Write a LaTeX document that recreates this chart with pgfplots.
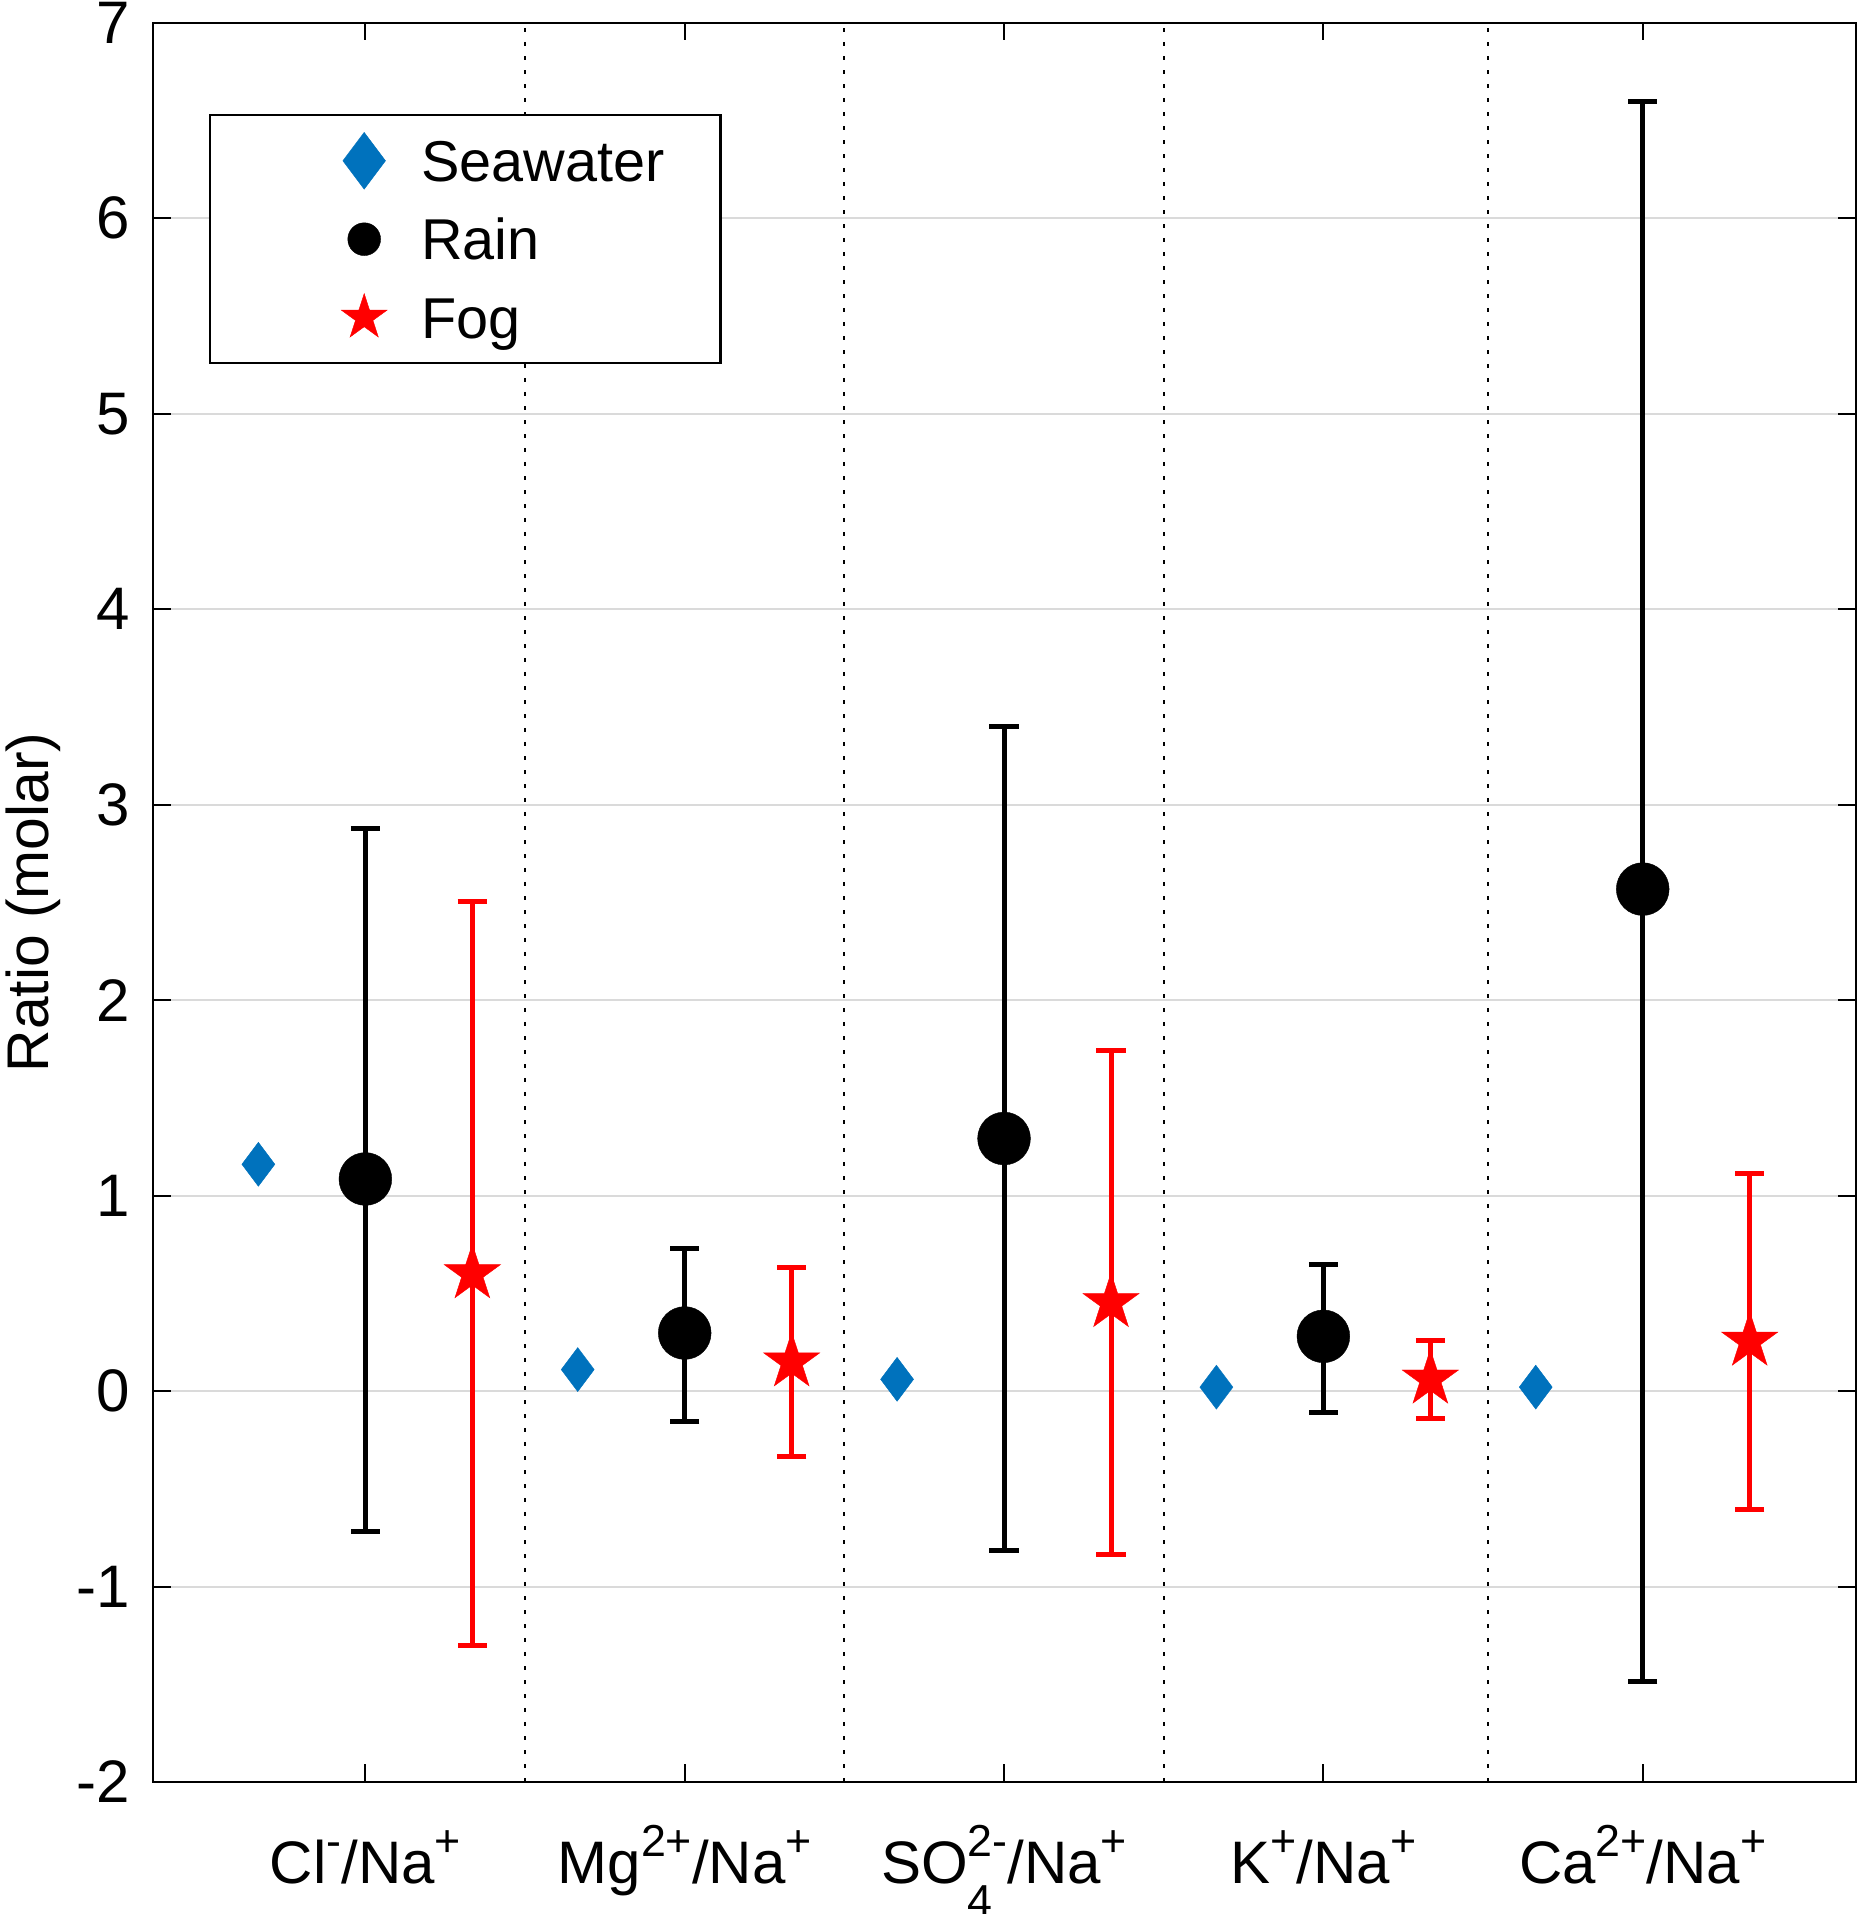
\documentclass[border=0pt]{standalone}
\usepackage{pgfplots}
\pgfplotsset{compat=1.18}
\usepackage{fontspec}
\setmainfont{Liberation Sans}
\definecolor{swblue}{rgb}{0,0.447,0.741}
\definecolor{gridgray}{RGB}{218,218,218}
\newcommand{\su}[1]{\raisebox{6.5pt}{\fontsize{11.2}{11.2}\selectfont #1}}
\newcommand{\sub}[1]{\raisebox{-8.5pt}{\fontsize{11.2}{11.2}\selectfont #1}}
\makeatletter
\pgfdeclareplotmark{fstar}{%
  \pgfpathmoveto{\pgfpointpolar{90}{\pgfplotmarksize}}%
  \pgfpathlineto{\pgfpointpolar{126}{0.382\pgfplotmarksize}}%
  \pgfpathlineto{\pgfpointpolar{162}{\pgfplotmarksize}}%
  \pgfpathlineto{\pgfpointpolar{198}{0.382\pgfplotmarksize}}%
  \pgfpathlineto{\pgfpointpolar{234}{\pgfplotmarksize}}%
  \pgfpathlineto{\pgfpointpolar{270}{0.382\pgfplotmarksize}}%
  \pgfpathlineto{\pgfpointpolar{306}{\pgfplotmarksize}}%
  \pgfpathlineto{\pgfpointpolar{342}{0.382\pgfplotmarksize}}%
  \pgfpathlineto{\pgfpointpolar{18}{\pgfplotmarksize}}%
  \pgfpathlineto{\pgfpointpolar{54}{0.382\pgfplotmarksize}}%
  \pgfpathclose
  \pgfusepathqfillstroke
}
\makeatother
\begin{document}
\begin{tikzpicture}
\begin{axis}[
  scale only axis,
  width=425.75pt, height=439.8pt,
  xmin=0.335, xmax=5.668,
  ymin=-2, ymax=7,
  xtick={1,2,3,4,5},
  xticklabels={Cl\su{-}/Na\su{+}, Mg\su{2+}/Na\su{+}, SO\rlap{\sub{4}}\su{2-}/Na\su{+}, K\su{+}/Na\su{+}, Ca\su{2+}/Na\su{+}},
  ytick={-2,-1,0,1,2,3,4,5,6,7},
  /pgf/number format/assume math mode=true,
  tick label style={font=\fontsize{15}{18}\selectfont},
  xticklabel style={anchor=base, inner sep=0pt, yshift=-25.25pt},
  yticklabel style={anchor=east, inner sep=0pt, xshift=-5.6pt},
  tick align=inside,
  major tick length=4.4pt,
  every tick/.style={black, line width=0.5pt},
  axis line style={line width=0.6pt},
  ymajorgrids,
  major grid style={gridgray, line width=0.5pt},
  ylabel={Ratio (molar)},
  every axis y label/.style={at={(rel axis cs:0,0.5)}, xshift=-30pt, rotate=90, anchor=center, font=\fontsize{14.7}{17}\selectfont},
  legend style={at={(rel axis cs:0,1)}, anchor=north west, xshift=14pt, yshift=-22.8pt,
    draw=black, line width=0.6pt, fill=white, inner xsep=0pt, inner ysep=1.6pt,
    row sep=0pt, column sep=0pt,
    font=\fontsize{14.4}{17}\selectfont,
    cells={anchor=base west},
    nodes={inner sep=0pt}},
  legend image code/.code={%
    \path[draw=none,fill=none] (-38.5pt,-4.6pt) rectangle (14.25pt,15pt);
    \draw[#1,mark repeat=1] plot coordinates {(0pt,5.2pt)};
  },
]
% dotted separators
\addplot[black, line width=0.5pt, dash pattern=on 1pt off 2.5pt, forget plot] coordinates {(1.5,-2) (1.5,7)};
\addplot[black, line width=0.5pt, dash pattern=on 1pt off 2.5pt, forget plot] coordinates {(2.5,-2) (2.5,7)};
\addplot[black, line width=0.5pt, dash pattern=on 1pt off 2.5pt, forget plot] coordinates {(3.5,-2) (3.5,7)};
\addplot[black, line width=0.5pt, dash pattern=on 1pt off 2.5pt, forget plot] coordinates {(4.515,-2) (4.515,7)};
% Seawater
\addplot[only marks, mark=diamond*, mark size=5.5pt, color=swblue, mark options={line width=0.1pt}, forget plot]
  coordinates {(0.665,1.16) (1.665,0.11) (2.665,0.06) (3.665,0.02) (4.665,0.02)};
% Rain
\addplot[only marks, mark=*, mark size=6.6pt, color=black, mark options={line width=0.1pt}, forget plot,
  error bars/.cd, y dir=both, y explicit,
  error bar style={line width=1.25pt, black},
  error mark options={rotate=90, line width=1.25pt, mark size=3.65pt, black}]
  coordinates {
  (1,1.085) += (0,1.794) -= (0,1.801)
  (2,0.297) += (0,0.431) -= (0,0.451)
  (3,1.292) += (0,2.106) -= (0,2.108)
  (4,0.280) += (0,0.370) -= (0,0.391)
  (5,2.568) += (0,4.028) -= (0,4.052)
  };
% Fog
\addplot[only marks, mark=fstar, mark size=7.4pt, color=red, mark options={line width=0.1pt}, forget plot,
  error bars/.cd, y dir=both, y explicit,
  error bar style={line width=1.25pt, red},
  error mark options={rotate=90, line width=1.25pt, mark size=3.65pt, red}]
  coordinates {
  (1.335,0.600) +- (0,1.904)
  (2.335,0.149) +- (0,0.482)
  (3.335,0.4525) +- (0,1.2875)
  (4.335,0.061) +- (0,0.199)
  (5.335,0.255) +- (0,0.859)
  };
\addlegendimage{only marks, mark=diamond*, mark size=7.1pt, color=swblue, mark options={line width=0.1pt}}
\addlegendentry{Seawater\hspace*{14pt}}
\addlegendimage{only marks, mark=*, mark size=4.1pt, color=black, mark options={line width=0.1pt}}
\addlegendentry{Rain}
\addlegendimage{only marks, mark=fstar, mark size=6pt, color=red, mark options={line width=0.1pt}}
\addlegendentry{Fog}
\coordinate (axsw) at (rel axis cs:0,0);
\coordinate (axne) at (rel axis cs:1,1);
\end{axis}
\pgfresetboundingbox
\path[use as bounding box] ([xshift=-38.25pt,yshift=-33pt]axsw) rectangle ([xshift=1pt,yshift=5.7pt]axne);
\end{tikzpicture}
\end{document}
